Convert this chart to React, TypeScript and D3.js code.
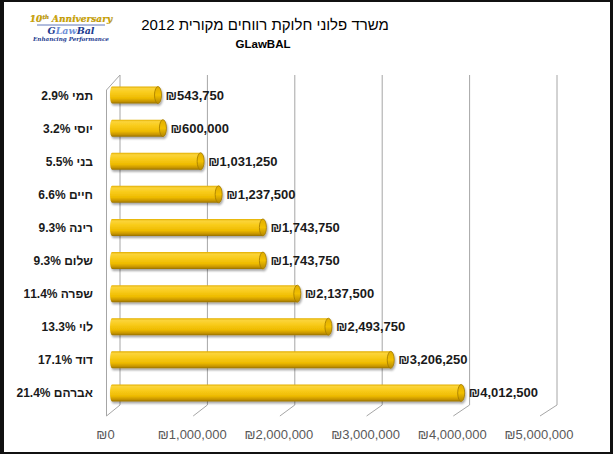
import React from "react";
import * as d3 from "d3";

const names = ["תמי", "יוסי", "בני", "חיים", "רינה", "שלום", "שפרה", "לוי", "דוד", "אברהם"];
const percents = [2.9, 3.2, 5.5, 6.6, 9.3, 9.3, 11.4, 13.3, 17.1, 21.4];
const values = [543750, 600000, 1031250, 1237500, 1743750, 1743750, 2137500, 2493750, 3206250, 4012500];
const tickValues = [0, 1000000, 2000000, 3000000, 4000000, 5000000];
const titleText = "משרד פלוני חלוקת רווחים מקורית 2012";
const subtitleText = "GLawBAL";

const W = 613;
const H = 456;

export default function App() {
  const xScale = d3.scaleLinear().domain([0, 5000000]).range([114, 551]);
  const backScale = d3.scaleLinear().domain([0, 5000000]).range([120, 557]);
  const frontScale = d3.scaleLinear().domain([0, 5000000]).range([106.5, 540]);
  const yScale = d3.scalePoint<string>().domain(names).range([78.5, 409.5]).padding(0.5);
  const fmt = d3.format(",");
  const barH = 17;
  const capRx = 3.5;
  const wallTop = 75;
  const wallBottom = 405;
  const frontTop = 90;
  const frontBottom = 416;

  return (
    <svg width={W} height={H} style={{ position: "absolute", left: 0, top: 0, background: "#fff" }}>
      <defs>
        <linearGradient id="cyl" x1="0" y1="0" x2="0" y2="1">
          <stop offset="0" stopColor="#e2ae00" />
          <stop offset="0.12" stopColor="#fbd43a" />
          <stop offset="0.35" stopColor="#f9cc1c" />
          <stop offset="0.68" stopColor="#eebb00" />
          <stop offset="0.88" stopColor="#c69400" />
          <stop offset="1" stopColor="#957000" />
        </linearGradient>
        <linearGradient id="cap" x1="0" y1="0" x2="0" y2="1">
          <stop offset="0" stopColor="#e0ad00" />
          <stop offset="0.5" stopColor="#f2c000" />
          <stop offset="1" stopColor="#b38600" />
        </linearGradient>
        <filter id="sh" x="-10%" y="-30%" width="120%" height="180%">
          <feGaussianBlur in="SourceAlpha" stdDeviation="1" />
          <feOffset dx="1" dy="1.5" result="b" />
          <feComponentTransfer><feFuncA type="linear" slope="0.35" /></feComponentTransfer>
          <feMerge><feMergeNode /><feMergeNode in="SourceGraphic" /></feMerge>
        </filter>
      </defs>
      <rect x={0} y={0} width={W} height={H} fill="#fff" />

      {/* logo */}
      <g fontFamily="'DejaVu Serif', 'Liberation Serif', serif" fontStyle="italic" fontWeight="bold" textAnchor="middle">
        <text x={71} y={22} fontSize={9} fill="#d4a800" stroke="#8a7000" strokeWidth={0.2}>
          10<tspan fontSize={5.5} dy={-3}>th</tspan><tspan dy={3}> Anniversary</tspan>
        </text>
        <line x1={37} x2={105} y1={25} y2={25} stroke="#3a56a8" strokeWidth={0.8} />
        <text x={71} y={33.5} fontSize={9.5} fill="#1c3a8f">
          G<tspan fill="#6f8fd8">Law</tspan>Bal
        </text>
        <text x={71} y={40.5} fontSize={5.6} fill="#1c3a8f">Enhancing Performance</text>
      </g>

      {/* title */}
      <text x={265} y={30} textAnchor="middle" fontFamily="'Liberation Sans', Arial, sans-serif" fontSize={15} fill="#000">
        {titleText}
      </text>
      <text x={263} y={48} textAnchor="middle" fontFamily="'Liberation Sans', Arial, sans-serif" fontWeight="bold" fontSize={11.5} fill="#000">
        {subtitleText}
      </text>

      {/* walls and gridlines */}
      <g stroke="#a6a6a6" strokeWidth={1} fill="none">
        <polyline points={`${frontScale(0)},${frontBottom} ${frontScale(0)},${frontTop} ${backScale(0)},${wallTop}`} />
        {tickValues.map((t) => (
          <polyline
            key={t}
            points={`${backScale(t)},${wallTop} ${backScale(t)},${wallBottom} ${frontScale(t)},${frontBottom}`}
          />
        ))}
      </g>

      {/* bars */}
      <g>
        {values.map((v, i) => {
          const cy = yScale(names[i]) as number;
          const x0 = 110;
          const x1 = xScale(v) - capRx;
          const top = cy - barH / 2;
          const bot = cy + barH / 2;
          const d = `M${x1},${top} L${x0 + 2},${top} A2,${barH / 2} 0 0 0 ${x0 + 2},${bot} L${x1},${bot} Z`;
          return (
            <g key={i} filter="url(#sh)">
              <path d={d} fill="url(#cyl)" />
              <ellipse cx={x1} cy={cy} rx={capRx} ry={barH / 2} fill="url(#cap)" stroke="#a17800" strokeWidth={0.8} />
            </g>
          );
        })}
      </g>

      {/* value labels */}
      <g fontFamily="'Liberation Sans', Arial, sans-serif" fontWeight="bold" fontSize={13} fill="#1a1a1a">
        {values.map((v, i) => (
          <text key={i} x={xScale(v) + 4} y={(yScale(names[i]) as number) + 4.5}>
            {"₪" + fmt(v)}
          </text>
        ))}
      </g>

      {/* category labels */}
      <g fontFamily="'Liberation Sans', Arial, sans-serif" fontWeight="bold" fontSize={12} fill="#1a1a1a" textAnchor="end">
        {names.map((n, i) => (
          <text key={i} x={93} y={(yScale(n) as number) + 4.5}>
            {`${percents[i]}% ${n}`}
          </text>
        ))}
      </g>

      {/* tick labels */}
      <g fontFamily="'Liberation Sans', Arial, sans-serif" fontSize={13} fill="#595959" textAnchor="middle">
        {tickValues.map((t) => (
          <text key={t} x={frontScale(t) - 1} y={439}>
            {"₪" + fmt(t)}
          </text>
        ))}
      </g>

      {/* border */}
      <g stroke="#111" fill="none">
        <line x1={2} y1={0} x2={2} y2={454} strokeWidth={4} />
        <line x1={0} y1={1} x2={W} y2={1} strokeWidth={2} />
        <line x1={611.5} y1={0} x2={611.5} y2={454} strokeWidth={3} />
        <line x1={0} y1={453} x2={W} y2={453} strokeWidth={2} />
      </g>
    </svg>
  );
}
